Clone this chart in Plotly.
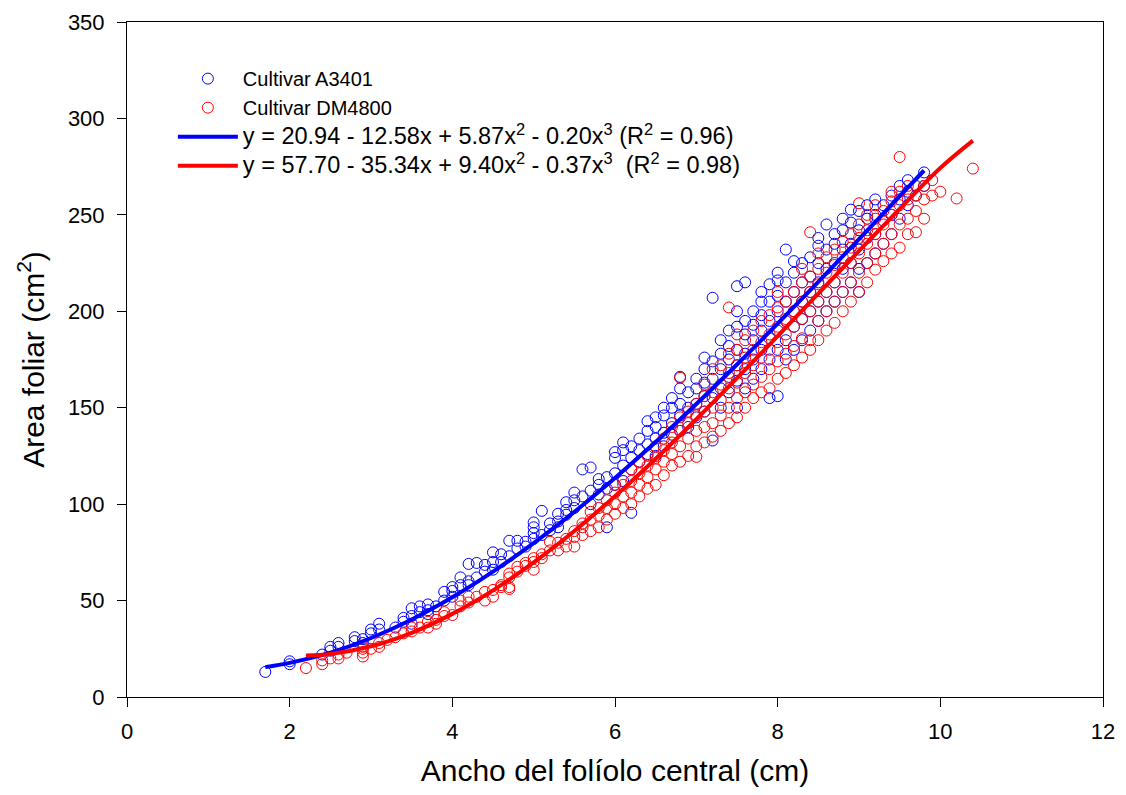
import plotly.graph_objects as go

# ---- data ----
# Cultivar A3401 (blue): x columns (cm) and the leaf-area values (cm2) in each column
blue_xcols = [1.7, 2.0, 2.4, 2.5, 2.6, 2.8, 2.9, 3.0, 3.1, 3.3, 3.4, 3.5, 3.6, 3.7, 3.8, 3.9,
              4.0, 4.1, 4.2, 4.3, 4.4, 4.5, 4.6, 4.7, 4.8, 4.9,
              5.0, 5.1, 5.2, 5.3, 5.4, 5.5, 5.6, 5.7, 5.8, 5.9,
              6.0, 6.1, 6.2, 6.3, 6.4, 6.5, 6.6, 6.7, 6.8, 6.9,
              7.0, 7.1, 7.2, 7.3, 7.4, 7.5, 7.6, 7.7, 7.8, 7.9,
              8.0, 8.1, 8.2, 8.3, 8.4, 8.5, 8.6, 8.7, 8.8, 8.9,
              9.0, 9.1, 9.2, 9.3, 9.4, 9.5, 9.6, 9.7, 9.8]
blue_ycols = [[13], [17, 18.5], [22], [24, 26], [26, 28], [29, 31], [28, 30], [33, 35], [35, 38], [36],
              [39, 41], [38, 42, 46], [44, 47], [43, 45, 48], [47], [50, 54.5],
              [52, 55, 57], [58, 62], [58, 60, 69], [62, 69.5], [65, 68.5], [66, 70, 75], [70, 74],
              [73, 81], [77, 81], [78, 80.5],
              [82, 85, 88, 90.5], [84, 96.5], [86.5, 90], [88, 91, 95], [94.5, 97, 101], [98, 102, 106],
              [104, 118], [100, 107, 119], [105, 110, 113], [88, 108, 114],
              [110, 116, 124, 127], [112, 120, 128, 132], [95.5, 118, 124, 130], [122, 128, 134],
              [126, 131, 138, 143], [125, 134, 140, 145], [130, 137, 146, 150], [136, 142, 150, 155],
              [138, 146, 152, 160, 166], [140, 150, 158],
              [145, 152, 160, 165], [148, 156, 163, 170, 176], [133, 155, 165, 174, 207],
              [150, 160, 170, 178, 185], [158, 166, 175, 182, 190], [150, 164, 172, 180, 192, 200, 213],
              [160, 170, 178, 188, 195, 215], [165, 175, 185, 193, 200], [170, 180, 190, 198, 205, 210],
              [155, 175, 186, 195, 205, 214],
              [156, 180, 190, 200, 208, 216, 220], [175, 185, 195, 205, 215, 232],
              [180, 192, 200, 210, 220, 226], [185, 196, 205, 215, 225], [190, 200, 210, 218, 228],
              [195, 205, 215, 225, 234, 238], [200, 210, 222, 232, 245], [205, 215, 225, 235, 240],
              [210, 222, 232, 242, 248], [215, 225, 235, 246, 252.7],
              [210, 222, 232, 242, 252], [225, 238, 248, 255], [230, 240, 250, 258], [235, 247, 255],
              [240, 250, 260], [248, 258, 265], [255, 262, 268], [260, 265], [265, 272]]

# Cultivar DM4800 (red)
red_xcols = [2.2, 2.4, 2.5, 2.6, 2.7, 2.9, 3.0, 3.1, 3.2, 3.3, 3.4, 3.5, 3.6, 3.7, 3.8, 3.9,
             4.0, 4.1, 4.2, 4.3, 4.4, 4.5, 4.6, 4.7, 4.8, 4.9,
             5.0, 5.1, 5.2, 5.3, 5.4, 5.5, 5.6, 5.7, 5.8, 5.9,
             6.0, 6.1, 6.2, 6.3, 6.4, 6.5, 6.6, 6.7, 6.8, 6.9,
             7.0, 7.1, 7.2, 7.3, 7.4, 7.5, 7.6, 7.7, 7.8, 7.9,
             8.0, 8.1, 8.2, 8.3, 8.4, 8.5, 8.6, 8.7, 8.8, 8.9,
             9.0, 9.1, 9.2, 9.3, 9.4, 9.5, 9.6, 9.7, 9.8, 9.9, 10.0, 10.2, 10.4]
red_ycols = [[15], [17, 19], [20], [20, 22], [23], [21, 23, 25, 26], [25], [26, 28], [29.6], [31],
             [33], [34, 36], [36], [36, 39], [38, 40], [42, 44],
             [42.5], [47, 50], [49, 52], [52], [50, 54.5], [52, 55.5], [57, 58], [56, 57, 62, 64],
             [65, 67.5], [68, 69.5],
             [66, 70, 72], [72, 74], [76, 80.5], [76, 80], [78, 82], [78, 83, 86], [84, 88, 90],
             [86, 92, 96], [88, 94, 98], [92, 98, 102],
             [95, 100, 106, 110], [98, 104, 110], [100, 106, 112, 118], [104, 110, 116, 122],
             [108, 114, 120, 125], [110, 118, 124, 130], [115, 122, 128, 134], [120, 126, 132, 140],
             [122, 130, 138, 145, 165.5], [125, 134, 142, 148],
             [124.5, 130, 138, 146, 152], [132, 140, 148, 156, 162], [135, 142, 150, 158, 170],
             [138, 146, 154, 162, 172], [142, 150, 160, 168, 178, 202], [145, 155, 163, 172, 180, 188],
             [150, 158, 168, 176, 185], [155, 162, 172, 180, 190], [158, 166, 176, 184, 195],
             [160, 170, 180, 188, 198],
             [165, 174, 184, 192, 202, 210], [168, 178, 188, 196, 205], [172, 182, 192, 200, 210],
             [176, 186, 196, 205, 215, 222], [180, 185, 200, 210, 218, 241], [185, 195, 205, 214, 222, 230],
             [190, 200, 210, 220, 228], [194, 205, 215, 224, 232], [200, 210, 220, 228, 236],
             [205, 215, 225, 233, 240],
             [210, 220, 230, 238, 245, 256], [215, 225, 235, 242, 250], [221.6, 230, 240, 248, 255],
             [226, 235, 245, 252], [230, 240, 250, 257, 262], [233, 245, 255, 262, 280],
             [240, 248, 258, 265], [241, 252, 260], [248, 258, 265], [260, 268], [262], [258.5], [274]]

# Fitted cubic curves
blue_fit_x = [1.7, 2.0, 2.5, 3.0, 3.5, 4.0, 4.5, 5.0, 5.5, 6.0, 6.5, 7.0, 7.5, 8.0, 8.5, 9.0, 9.5, 9.8]
blue_fit_y = [15.5, 17.7, 23.0, 30.6, 40.2, 51.7, 65.0, 79.8, 96.0, 113.6, 132.2, 151.9, 172.4, 193.6,
              215.3, 237.4, 259.7, 273.0]
red_fit_x = [2.2, 2.5, 3.0, 3.5, 4.0, 4.5, 5.0, 5.5, 6.0, 6.5, 7.0, 7.5, 8.0, 8.5, 9.0, 9.5, 10.0, 10.4]
red_fit_y = [21.5, 22.3, 26.3, 33.3, 43.1, 55.3, 69.8, 86.1, 104.1, 123.5, 144.0, 165.3, 187.1, 209.2,
             231.3, 253.1, 274.3, 288.5]

EQ = '<span style="font-size:23.5px">{}</span>'
series_names = ["Cultivar A3401", "Cultivar DM4800",
                EQ.format("y = 20.94 - 12.58x + 5.87x<sup>2</sup> - 0.20x<sup>3</sup> (R<sup>2</sup> = 0.96)"),
                EQ.format("y = 57.70 - 35.34x + 9.40x<sup>2</sup> - 0.37x<sup>3</sup> &nbsp;(R<sup>2</sup> = 0.98)")]

x_ticks = [0, 2, 4, 6, 8, 10, 12]
y_ticks = [0, 50, 100, 150, 200, 250, 300, 350]


def expand(xcols, ycols):
    xs, ys = [], []
    for xv, col in zip(xcols, ycols):
        for yv in col:
            xs.append(xv)
            ys.append(yv)
    return xs, ys


bx, by = expand(blue_xcols, blue_ycols)
rx, ry = expand(red_xcols, red_ycols)

FONT = "Arial, Liberation Sans, sans-serif"
BLUE = "rgb(0,0,255)"
RED = "rgb(255,0,0)"

fig = go.Figure()
fig.add_trace(go.Scatter(x=bx, y=by, mode="markers", name=series_names[0],
                         marker=dict(symbol="circle-open", size=11, color=BLUE, line=dict(width=1))))
fig.add_trace(go.Scatter(x=rx, y=ry, mode="markers", name=series_names[1],
                         marker=dict(symbol="circle-open", size=11, color=RED, line=dict(width=1))))
fig.add_trace(go.Scatter(x=blue_fit_x, y=blue_fit_y, mode="lines", name=series_names[2],
                         line=dict(color=BLUE, width=4, shape="spline")))
fig.add_trace(go.Scatter(x=red_fit_x, y=red_fit_y, mode="lines", name=series_names[3],
                         line=dict(color=RED, width=4, shape="spline")))

axis_common = dict(showgrid=False, zeroline=False, showline=True, linecolor="black", linewidth=1,
                   mirror=True, ticks="outside", ticklen=9, tickwidth=1, tickcolor="black",
                   tickfont=dict(family=FONT, size=22, color="black"))

fig.update_xaxes(range=[0, 12], tickvals=x_ticks, ticklabelstandoff=6,
                 title=dict(text="Ancho del folíolo central (cm)", font=dict(family=FONT, size=30, color="black"),
                            standoff=16),
                 **axis_common)
fig.update_yaxes(range=[0, 350], tickvals=y_ticks, ticklabelstandoff=8,
                 title=dict(text="Area foliar (cm<sup>2</sup>)", font=dict(family=FONT, size=30, color="black"),
                            standoff=14),
                 **axis_common)

fig.update_layout(
    width=1126, height=795,
    margin=dict(l=127, r=23, t=22, b=98, autoexpand=False),
    plot_bgcolor="white", paper_bgcolor="white",
    font=dict(family=FONT, color="black"),
    legend=dict(x=0.047, y=0.945, xanchor="left", yanchor="top", bgcolor="rgba(0,0,0,0)",
                font=dict(family=FONT, size=20, color="black"), itemwidth=60,
                tracegroupgap=0),
    showlegend=True,
)

fig.write_html("out.html")
